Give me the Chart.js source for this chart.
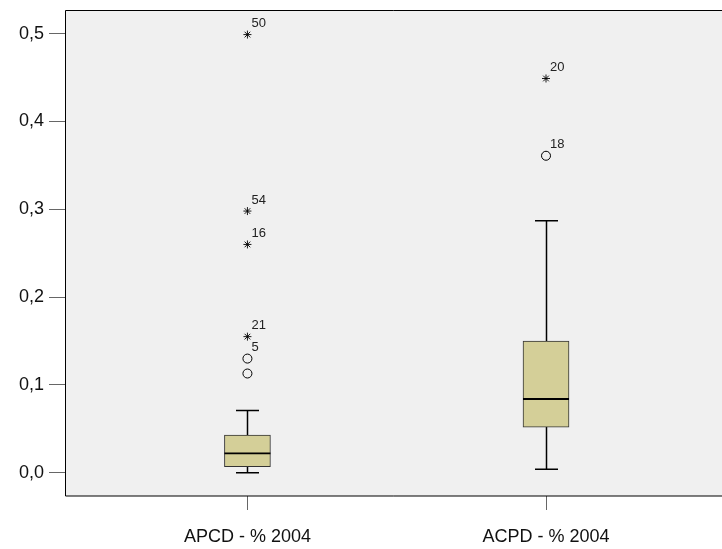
<!DOCTYPE html>
<html>
<head>
<meta charset="utf-8">
<script src="https://cdn.jsdelivr.net/npm/chart.js@4.4.1/dist/chart.umd.min.js"></script>
<style>
  html, body { margin: 0; padding: 0; background: #ffffff; }
  #wrap { width: 722px; height: 549px; }
</style>
</head>
<body>
<div id="wrap"><canvas id="boxChart" width="722" height="549"></canvas></div>
<script>
// Box plot data
var categories = ["APCD - % 2004", "ACPD - % 2004"];
var catPos = [1, 2];
var boxMin = [0.0, 0.004];
var boxQ1 = [0.007, 0.052];
var boxMedian = [0.022, 0.084];
var boxQ3 = [0.043, 0.150];
var boxMax = [0.071, 0.287];

// outliers (circles) and extremes (stars)
var outCat = [1, 1, 2];
var outVal = [0.130, 0.113, 0.361];
var outId = ["5", "", "18"];
var extCat = [1, 1, 1, 1, 2];
var extVal = [0.155, 0.260, 0.298, 0.499, 0.449];
var extId = ["21", "16", "54", "50", "20"];

var yTicks = [0.0, 0.1, 0.2, 0.3, 0.4, 0.5];

var FONT = "'Liberation Sans', Arial, sans-serif";

var boxData = catPos.map(function (c, i) {
    return { x: c, y: [boxQ1[i], boxQ3[i]] };
});
var outData = outVal.map(function (v, i) {
    return { x: outCat[i], y: v, id: outId[i] };
});
var extData = extVal.map(function (v, i) {
    return { x: extCat[i], y: v, id: extId[i] };
});

// background + frame (right side runs off the canvas)
var framePlugin = {
    id: "frame",
    beforeDraw: function (chart) {
        var a = chart.chartArea, ctx = chart.ctx;
        ctx.save();
        ctx.fillStyle = "#f0f0f0";
        ctx.fillRect(a.left, a.top, chart.width - a.left, a.bottom - a.top);
        ctx.restore();
    },
    afterDraw: function (chart) {
        var a = chart.chartArea, ctx = chart.ctx;
        var l = a.left + 0.5, t = a.top + 0.5, b = a.bottom;
        ctx.save();
        ctx.strokeStyle = "#000000";
        ctx.lineWidth = 1;
        ctx.beginPath();
        ctx.moveTo(chart.width, t);
        ctx.lineTo(l, t);
        ctx.lineTo(l, b);
        ctx.lineTo(chart.width, b);
        ctx.stroke();
        ctx.restore();
    }
};

// whiskers, caps, medians, outlier ids
var boxPlugin = {
    id: "boxParts",
    beforeDatasetsDraw: function (chart) {
        var x = chart.scales.x, y = chart.scales.y, ctx = chart.ctx;
        ctx.save();
        ctx.strokeStyle = "#000000";
        ctx.lineWidth = 1.5;
        catPos.forEach(function (c, i) {
            var px = Math.round(x.getPixelForValue(c)) + 0.5;
            var top = y.getPixelForValue(boxMax[i]);
            var bot = y.getPixelForValue(boxMin[i]);
            ctx.beginPath();
            ctx.moveTo(px, top);
            ctx.lineTo(px, bot);
            ctx.moveTo(px - 11.5, top);
            ctx.lineTo(px + 11.5, top);
            ctx.moveTo(px - 11.5, bot);
            ctx.lineTo(px + 11.5, bot);
            ctx.stroke();
        });
        ctx.restore();
    },
    afterDatasetsDraw: function (chart) {
        var x = chart.scales.x, y = chart.scales.y, ctx = chart.ctx;
        ctx.save();
        ctx.strokeStyle = "#000000";
        ctx.lineWidth = 1.8;
        catPos.forEach(function (c, i) {
            var px = x.getPixelForValue(c);
            var py = y.getPixelForValue(boxMedian[i]);
            ctx.beginPath();
            ctx.moveTo(px - 23, py);
            ctx.lineTo(px + 23, py);
            ctx.stroke();
        });
        ctx.fillStyle = "#222222";
        ctx.font = "13px " + FONT;
        ctx.textAlign = "left";
        ctx.textBaseline = "middle";
        outData.concat(extData).forEach(function (d) {
            if (!d.id) return;
            ctx.fillText(d.id, x.getPixelForValue(d.x) + 4, y.getPixelForValue(d.y) - 11);
        });
        ctx.restore();
    }
};

new Chart("boxChart", {
    type: "bar",
    data: {
        datasets: [{
            type: "bar",
            data: boxData,
            backgroundColor: "#d4cf98",
            borderColor: "#333333",
            borderWidth: 1,
            borderSkipped: false,
            barThickness: 46,
            order: 2
        },
        {
            type: "scatter",
            data: outData,
            pointStyle: "circle",
            pointRadius: 4.5,
            pointBorderColor: "#000000",
            pointBackgroundColor: "rgba(0,0,0,0)",
            pointBorderWidth: 1,
            order: 1
        },
        {
            type: "scatter",
            data: extData,
            pointStyle: "star",
            pointRadius: 4,
            pointBorderColor: "#000000",
            pointBorderWidth: 0.9,
            order: 1
        },
        ],
    },
    options: {
        responsive: false,
        animation: false,
        layout: {
            padding: { top: 10, right: 0, bottom: 0, left: 0 }
        },
        plugins: {
            legend: { display: false },
            tooltip: { enabled: false },
            title: { display: false }
        },
        scales: {
            x: {
                type: "linear",
                offset: false,
                min: 0.389,
                max: 2.571,
                afterBuildTicks: function (scale) {
                    scale.ticks = catPos.map(function (c) { return { value: c }; });
                },
                afterFit: function (scale) {
                    scale.height = 53;
                    scale.paddingLeft = 0;
                    scale.paddingRight = 0;
                },
                ticks: {
                    autoSkip: false,
                    maxRotation: 0,
                    padding: 16,
                    color: "#111111",
                    font: { family: FONT, size: 18 },
                    callback: function (v) {
                        return categories[catPos.indexOf(v)];
                    }
                },
                grid: {
                    offset: false,
                    drawOnChartArea: false,
                    drawTicks: true,
                    tickLength: 14,
                    color: "#666666"
                },
                border: { display: false }
            },
            y: {
                min: -0.0265,
                max: 0.527,
                afterBuildTicks: function (scale) {
                    scale.ticks = yTicks.map(function (v) { return { value: v }; });
                },
                afterFit: function (scale) {
                    scale.width = 65;
                    scale.paddingTop = 0;
                    scale.paddingBottom = 0;
                },
                ticks: {
                    padding: 5,
                    color: "#111111",
                    font: { family: FONT, size: 18 },
                    callback: function (v) {
                        return v.toFixed(1).replace(".", ",");
                    }
                },
                grid: {
                    drawOnChartArea: false,
                    drawTicks: true,
                    tickLength: 16,
                    color: "#666666"
                },
                border: { display: false }
            }
        }
    },
    plugins: [framePlugin, boxPlugin]
});
</script>
</body>
</html>
